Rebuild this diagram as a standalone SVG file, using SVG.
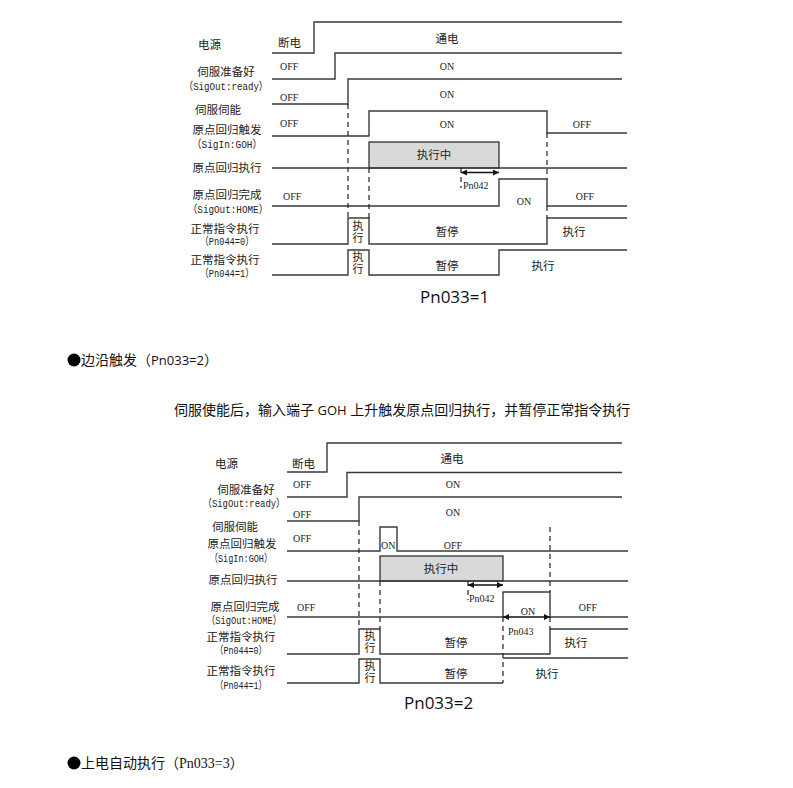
<svg xmlns="http://www.w3.org/2000/svg" width="793" height="788" viewBox="0 0 793 788">
<style>
.sig{fill:none;stroke:#3a3a3a;stroke-width:1.4}
.dash{fill:none;stroke:#222;stroke-width:1.2;stroke-dasharray:5,4}
.box{fill:#d9d9d9;stroke:#222;stroke-width:1.2}
.arr{fill:none;stroke:#111;stroke-width:1.3;marker-start:url(#ah);marker-end:url(#ah)}
.lbl{font-family:"Liberation Serif","Noto Sans CJK SC",serif;font-size:11.5px;fill:#222}
.par{font-family:"Liberation Mono","Noto Sans CJK SC",monospace;font-size:11px;fill:#222}
.v{font-family:"Liberation Serif","Noto Sans CJK SC",serif;font-size:11px;fill:#222;text-anchor:middle}
.val{font-family:"Liberation Serif","Noto Sans CJK SC",serif;font-size:10px;fill:#222}
.c{text-anchor:middle}
.cap{font-family:"Open Sans","Liberation Sans",sans-serif;font-size:17px;fill:#111}
.body{font-family:"Liberation Serif","Noto Sans CJK SC",sans-serif;font-size:14px;fill:#111}
</style>
<defs>
<marker id="ah" viewBox="0 0 10 10" refX="10" refY="5" markerWidth="6" markerHeight="6" orient="auto-start-reverse" markerUnits="userSpaceOnUse">
<path d="M0,0 L10,5 L0,10 z" fill="#111"/>
</marker>
</defs>

<!-- ===== Diagram 1 (Pn033=1) ===== -->
<g id="d1-signals" class="connectors">
<path class="sig" d="M272,53 H314 V22 H622"/>
<path class="sig" d="M272,79 H335 V53 H622"/>
<path class="sig" d="M272,104 H348 V79 H622"/>
<path class="sig" d="M272,136 H369 V111 H547 V133 H627"/>
<rect class="box" x="369" y="142" width="130" height="26"/>
<path class="sig" d="M272,168 H627"/>
<path class="sig" d="M272,206 H499 V179 H547 V206 H627"/>
<path class="sig" d="M272,244 H348 V218 H369 V244 H547 V218 H627"/>
<path class="sig" d="M272,275 H348 V250 H369 V275 H499 V250 H627"/>
<path class="dash" d="M348,104 V218"/>
<path class="dash" d="M369,168 V218"/>
<path class="dash" d="M547,133 V179 M547,206 V218"/>
<path class="dash" d="M461,168 V188"/>
<path class="arr" d="M461,172.5 H499"/>
</g>
<g id="d1-labels">
<text class="lbl" x="198" y="49">电源</text>
<text class="lbl" x="278" y="47">断电</text>
<text class="lbl c" x="447" y="43">通电</text>
<text class="lbl c" x="226" y="76">伺服准备好</text>
<text class="par c" x="226" y="90" textLength="84" lengthAdjust="spacingAndGlyphs">（SigOut:ready）</text>
<text class="val" x="280" y="70">OFF</text>
<text class="val c" x="447" y="70">ON</text>
<text class="lbl" x="195" y="114">伺服伺能</text>
<text class="val" x="280" y="101">OFF</text>
<text class="val c" x="447" y="98">ON</text>
<text class="lbl c" x="227" y="134">原点回归触发</text>
<text class="par c" x="227" y="148" textLength="70" lengthAdjust="spacingAndGlyphs">（SigIn:GOH）</text>
<text class="val" x="280" y="127">OFF</text>
<text class="val c" x="447" y="128">ON</text>
<text class="val c" x="582" y="128">OFF</text>
<text class="lbl c" x="434" y="159">执行中</text>
<text class="lbl c" x="227" y="172">原点回归执行</text>
<text class="val" x="463" y="189">Pn042</text>
<text class="lbl c" x="227" y="199">原点回归完成</text>
<text class="par c" x="228" y="213" textLength="80" lengthAdjust="spacingAndGlyphs">（SigOut:HOME）</text>
<text class="val" x="283" y="200">OFF</text>
<text class="val c" x="524" y="205">ON</text>
<text class="val c" x="585" y="200">OFF</text>
<text class="lbl c" x="225" y="233">正常指令执行</text>
<text class="par c" x="227" y="245" textLength="54" lengthAdjust="spacingAndGlyphs">（Pn044=0）</text>
<text class="v" x="358" y="230">执</text>
<text class="v" x="358" y="242">行</text>
<text class="lbl c" x="447" y="236">暂停</text>
<text class="lbl c" x="574" y="236">执行</text>
<text class="lbl c" x="225" y="264">正常指令执行</text>
<text class="par c" x="227" y="277" textLength="54" lengthAdjust="spacingAndGlyphs">（Pn044=1）</text>
<text class="v" x="358" y="261">执</text>
<text class="v" x="358" y="273">行</text>
<text class="lbl c" x="447" y="270">暂停</text>
<text class="lbl c" x="543" y="270">执行</text>
<text class="cap" x="420" y="303">Pn033=1</text>
</g>

<g id="section-text">
<circle cx="74" cy="360" r="6.5" fill="#000"/>
<text class="body" x="81" y="365">边沿触发（<tspan font-family="'Open Sans','Liberation Sans',sans-serif" font-size="13">Pn033=2</tspan>）</text>
<text class="body" x="174" y="415">伺服使能后，输入端子 <tspan font-family="'Open Sans','Liberation Sans',sans-serif" font-size="13">GOH</tspan> 上升触发原点回归执行，并暂停正常指令执行</text>
<circle cx="74" cy="763" r="6.5" fill="#000"/>
<text class="body" x="81" y="768">上电自动执行（Pn033=3）</text>
</g>

<!-- ===== Diagram 2 (Pn033=2) ===== -->
<g id="d2-signals" class="connectors">
<path class="sig" d="M287,472 H327 V443 H622"/>
<path class="sig" d="M287,497 H347 V472.5 H622"/>
<path class="sig" d="M287,521 H359 V497 H622"/>
<path class="sig" d="M287,551 H380 V527 H397 V551 H628"/>
<rect class="box" x="380" y="556" width="123" height="25"/>
<path class="sig" d="M287,581 H628"/>
<path class="sig" d="M287,617 H503 V592 H550 V617 H628"/>
<path class="sig" d="M287,654 H359 V629 H380 V654 H550 V629 H628"/>
<path class="sig" d="M287,683 H359 V659 H380 V683 H503 M503,658 H628"/>
<path class="dash" d="M359,521 V629"/>
<path class="dash" d="M380,581 V629"/>
<path class="dash" d="M550,527 V592 M550,617 V629"/>
<path class="dash" d="M503,617 V683"/>
<path class="dash" d="M468,581 V600"/>
<path class="arr" d="M468,585 H503"/>
<path class="arr" d="M503,617 H550"/>
</g>
<g id="d2-labels">
<text class="lbl" x="215" y="468">电源</text>
<text class="lbl" x="292" y="468">断电</text>
<text class="lbl c" x="452" y="463">通电</text>
<text class="lbl c" x="246" y="494">伺服准备好</text>
<text class="par c" x="244" y="507" textLength="82" lengthAdjust="spacingAndGlyphs">（SigOut:ready）</text>
<text class="val" x="293" y="488">OFF</text>
<text class="val c" x="453" y="488">ON</text>
<text class="lbl" x="212" y="531">伺服伺能</text>
<text class="val" x="293" y="518">OFF</text>
<text class="val c" x="453" y="516">ON</text>
<text class="lbl c" x="242" y="548">原点回归触发</text>
<text class="par c" x="241" y="562" textLength="63" lengthAdjust="spacingAndGlyphs">（SigIn:GOH）</text>
<text class="val" x="293" y="542">OFF</text>
<text class="val" x="381" y="549">ON</text>
<text class="val c" x="453" y="549">OFF</text>
<text class="lbl c" x="441" y="573">执行中</text>
<text class="lbl c" x="243" y="584">原点回归执行</text>
<text class="val" x="469" y="602">Pn042</text>
<text class="lbl c" x="245" y="611">原点回归完成</text>
<text class="par c" x="244" y="624" textLength="75" lengthAdjust="spacingAndGlyphs">（SigOut:HOME）</text>
<text class="val" x="297" y="611">OFF</text>
<text class="val c" x="528" y="615">ON</text>
<text class="val c" x="588" y="611">OFF</text>
<text class="val" x="508" y="635">Pn043</text>
<text class="lbl c" x="241" y="641">正常指令执行</text>
<text class="par c" x="241" y="654" textLength="52" lengthAdjust="spacingAndGlyphs">（Pn044=0）</text>
<text class="v" x="370" y="640">执</text>
<text class="v" x="370" y="652">行</text>
<text class="lbl c" x="456" y="647">暂停</text>
<text class="lbl c" x="576" y="647">执行</text>
<text class="lbl c" x="241" y="675">正常指令执行</text>
<text class="par c" x="241" y="689" textLength="52" lengthAdjust="spacingAndGlyphs">（Pn044=1）</text>
<text class="v" x="370" y="670">执</text>
<text class="v" x="370" y="682">行</text>
<text class="lbl c" x="456" y="678">暂停</text>
<text class="lbl c" x="547" y="678">执行</text>
<text class="cap" x="404" y="709">Pn033=2</text>
</g>
</svg>
